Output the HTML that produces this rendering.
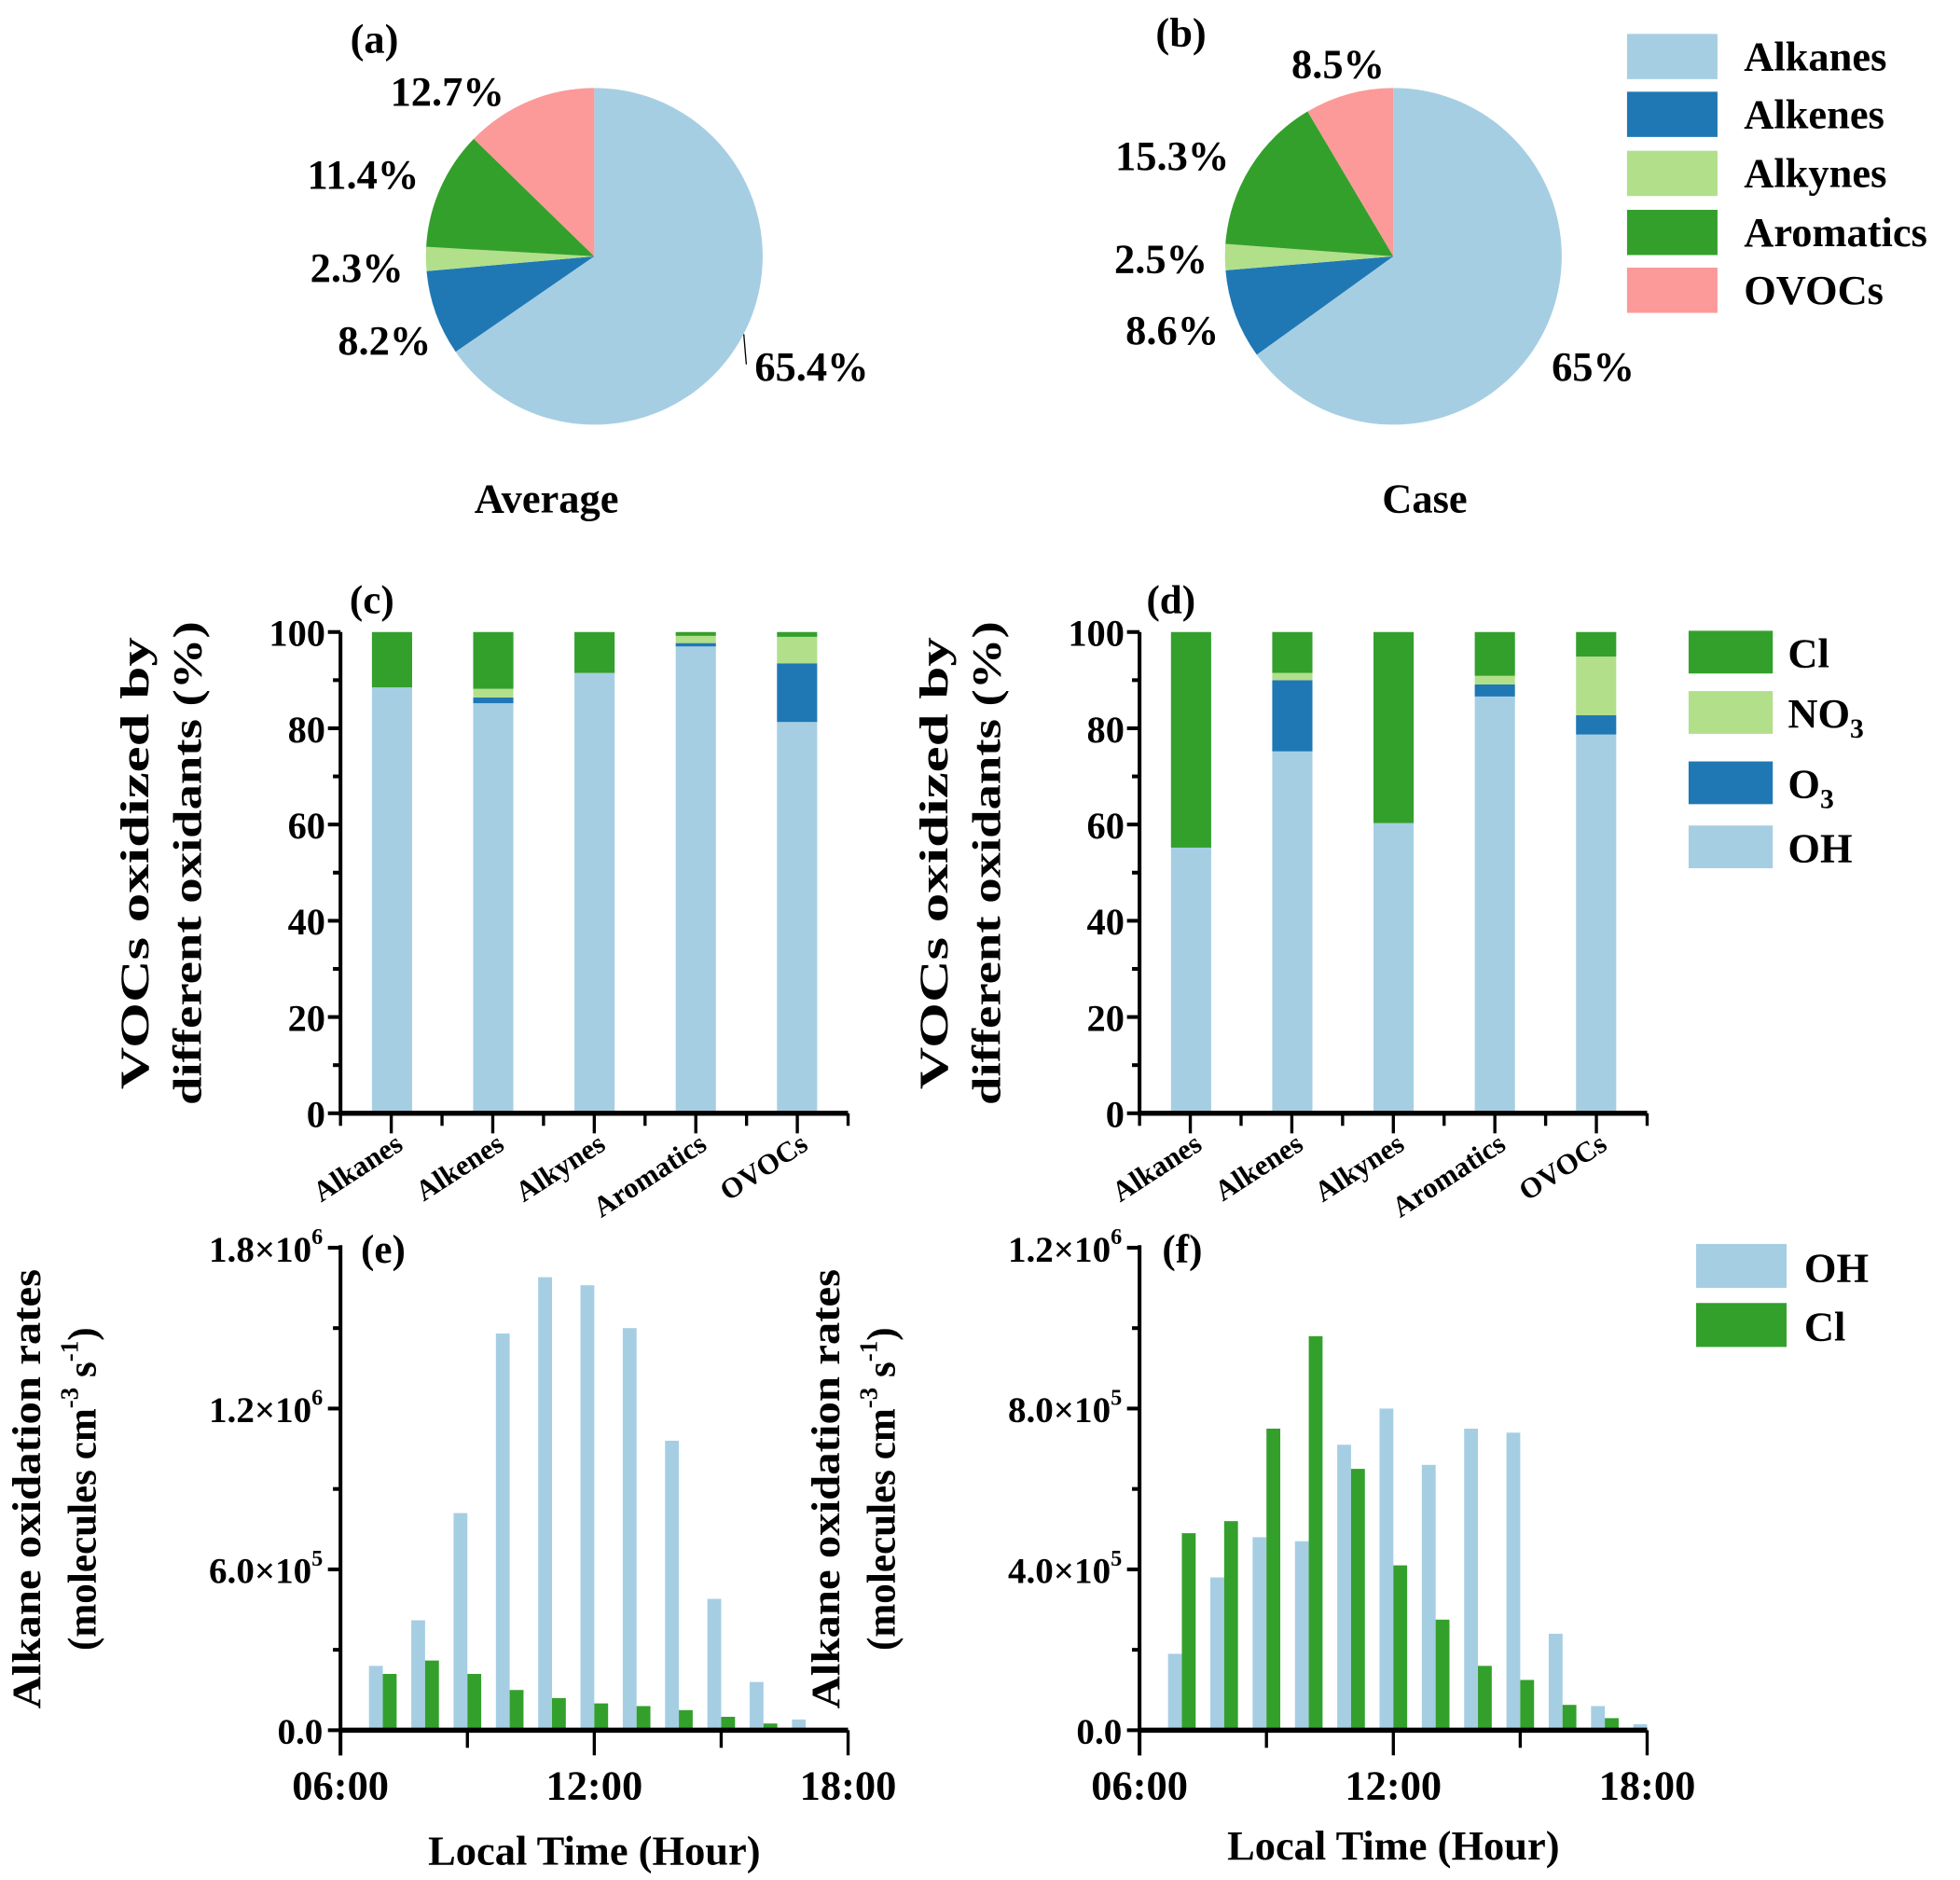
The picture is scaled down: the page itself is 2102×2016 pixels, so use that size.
<!DOCTYPE html>
<html><head><meta charset="utf-8"><style>
html,body{margin:0;padding:0;background:#fff}
svg text{font-family:"Liberation Serif",serif;font-weight:bold;fill:#000}
</style></head><body>
<svg id="fig" width="2102" height="2011" viewBox="0 0 1560 1492.5" xmlns="http://www.w3.org/2000/svg"></svg>
<script>
// ---- data ----
const pieCats = ["Alkanes","Alkenes","Alkynes","Aromatics","OVOCs"];
const pieColors = ["#a6cee3","#1f78b4","#b2df8a","#33a02c","#fb9a99"];
const pieAvg = [65.4,8.2,2.3,11.4,12.7];
const pieCase = [65,8.6,2.5,15.3,8.5];
const barCats = ["Alkanes","Alkenes","Alkynes","Aromatics","OVOCs"];
const oxidants = ["OH","O3","NO3","Cl"];
const oxColors = ["#a6cee3","#1f78b4","#b2df8a","#33a02c"];
const cOH = [88.5,85.2,91.5,97.0,81.3];
const cO3 = [0,1.2,0,0.7,12.2];
const cNO3 = [0,1.8,0,1.5,5.5];
const cCl = [11.5,11.8,8.5,0.8,1.0];
const dOH = [55.2,75.2,60.3,86.6,78.7];
const dO3 = [0,14.8,0,2.5,4.0];
const dNO3 = [0,1.5,0,1.8,12.2];
const dCl = [44.8,8.5,39.7,9.1,5.1];
const hoursE = [7,8,9,10,11,12,13,14,15,16,17];
const eOH = [0.24,0.41,0.81,1.48,1.69,1.66,1.50,1.08,0.49,0.18,0.04];
const eCl = [0.21,0.26,0.21,0.15,0.12,0.10,0.09,0.075,0.05,0.025,0.005];
const hoursF = [7,8,9,10,11,12,13,14,15,16,17,18];
const fOH = [0.19,0.38,0.48,0.47,0.71,0.80,0.66,0.75,0.74,0.24,0.06,0.015];
const fCl = [0.49,0.52,0.75,0.98,0.65,0.41,0.275,0.16,0.125,0.063,0.03,0];

const NS="http://www.w3.org/2000/svg";
const svg=document.getElementById('fig');
function el(tag,attrs,parent,txt){const e=document.createElementNS(NS,tag);for(const k in attrs)e.setAttribute(k,attrs[k]);if(txt!==undefined)e.textContent=txt;(parent||svg).appendChild(e);return e;}
function txt(x,y,s,size,anchor,parent,name){const t=el('text',{x:x,y:y,'font-size':size,'text-anchor':anchor||'middle'},parent,s);


return t;}

// ---- pies ----
function pie(cx,cy,r,vals,name){
  const g=el('g',{});
  
  
  let a=0;const tot=vals.reduce((s,v)=>s+v,0);
  vals.forEach((v,i)=>{
    const a0=a/tot*2*Math.PI, a1=(a+v)/tot*2*Math.PI; a+=v;
    const x0=cx+r*Math.sin(a0),y0=cy-r*Math.cos(a0),x1=cx+r*Math.sin(a1),y1=cy-r*Math.cos(a1);
    const p=el('path',{d:`M${cx},${cy}L${x0},${y0}A${r},${r} 0 ${(a1-a0)>Math.PI?1:0} 1 ${x1},${y1}Z`,fill:pieColors[i]},g);
    
    
  });
}
pie(473,204,134,pieAvg,'pie-average');
pie(1109,204,134,pieCase,'pie-case');
el('line',{x1:592,y1:266,x2:594,y2:290,stroke:'#000','stroke-width':1});
const FS=33;
txt(298,42,'(a)',FS,'middle',null,'panel-label-a');
txt(356,84,pieAvg[4]+'%',FS,'middle',null,'pct-ovocs');
txt(289,150,pieAvg[3]+'%',FS,'middle',null,'pct-aromatics');
txt(284,224,pieAvg[2]+'%',FS,'middle',null,'pct-alkynes');
txt(306,282,pieAvg[1]+'%',FS,'middle',null,'pct-alkenes');
txt(646,303,pieAvg[0]+'%',FS,'middle',null,'pct-alkanes');
txt(435,408,'Average',FS,'middle',null,'pie-title-average');
txt(940,37,'(b)',FS,'middle',null,'panel-label-b');
txt(1065,62,pieCase[4]+'%',FS,'middle',null,'pct-ovocs');
txt(933,135,pieCase[3]+'%',FS,'middle',null,'pct-aromatics');
txt(924,217,pieCase[2]+'%',FS,'middle',null,'pct-alkynes');
txt(933,274,pieCase[1]+'%',FS,'middle',null,'pct-alkenes');
txt(1268,303,pieCase[0]+'%',FS,'middle',null,'pct-alkanes');
txt(1134,408,'Case',FS,'middle',null,'pie-title-case');
const lg=el('g',{});


[27,73,120,167,213].forEach((y,i)=>{
  const r=el('rect',{x:1295,y:y,width:72,height:36,fill:pieColors[i]},lg);
  
  
  txt(1388,y+29,pieCats[i],FS,'start',lg,'legend-entry');
});

// ---- stacked bars ----
function stacked(ax,series,label,name){
  const g=el('g',{});
  
  
  const y0=886,y1=503,xEnd=ax+404;
  const ys=v=>y0-(y0-y1)*v/100;
  const xs=i=>ax+41+i*80.6;
  barCats.forEach((c,i)=>{
    let acc=0;
    series.forEach((s,k)=>{
      const v=s[i]; if(v<=0) return;
      const r=el('rect',{x:xs(i)-16,y:ys(acc+v),width:32,height:ys(acc)-ys(acc+v),fill:oxColors[k]},g);
      
      
      acc+=v;
    });
  });
  el('line',{x1:ax,y1:y1,x2:ax,y2:y0+2,stroke:'#000','stroke-width':3},g);
  el('line',{x1:ax-1,y1:y0,x2:xEnd,y2:y0,stroke:'#000','stroke-width':4},g);
  for(let v=0;v<=100;v+=10){
    const y=ys(v);el('line',{x1:ax-(v%20==0?10:6),y1:y,x2:ax,y2:y,stroke:'#000','stroke-width':3},g);
    if(v%20==0) txt(ax-12,y+11,String(v),30,'end',g,'y-tick-label');
  }
  for(let i=0;i<=10;i++){
    const x=ax+i*40.4;el('line',{x1:x,y1:y0,x2:x,y2:y0+(i%2?16:10),stroke:'#000','stroke-width':2.5},g);
  }
  barCats.forEach((c,i)=>{
    txt(0,0,c,23,'end',g,'x-tick-label').setAttribute('transform',`translate(${xs(i)+10},${y0+28}) rotate(-33)`);
  });
  const yl=el('g',{transform:`translate(${ax-153},687) rotate(-90)`},g);
  const a=txt(0,0,'VOCs oxidized by',32,'middle',yl,'y-axis-title');
  a.setAttribute('textLength','360');a.setAttribute('lengthAdjust','spacingAndGlyphs');
  const b=txt(0,42,'different oxidants (%)',32,'middle',yl,'y-axis-title');
  b.setAttribute('textLength','385');b.setAttribute('lengthAdjust','spacingAndGlyphs');
  txt(ax+25,488,label,32,'middle',g,'panel-label');
}
stacked(271,[cOH,cO3,cNO3,cCl],'(c)','chart-c');
stacked(907,[dOH,dO3,dNO3,dCl],'(d)','chart-d');
const lg2=el('g',{});


[[502,'Cl',3],[550,'NO',2],[606,'O',1],[657,'OH',0]].forEach(([y,t,k])=>{
  const r=el('rect',{x:1344,y:y,width:67,height:34,fill:oxColors[k]},lg2);
  
  
  const tt=txt(1423,y+29,t,FS,'start',lg2,'legend-entry');
  if(k==1||k==2){el('tspan',{'font-size':22,dy:8},tt,'3');}
});

// ---- time bars ----
function timebars(ax,hours,oh,cl,max,ticks,tickLbls,label,name,yt){
  const g=el('g',{});
  
  
  const y0=1377,y1=993;
  const ys=v=>y0-(y0-y1)*v/max;
  const xs=h=>ax+(h-6)*404/12;
  hours.forEach((h,i)=>{
    const a=el('rect',{x:xs(h)-11,y:ys(oh[i]),width:11,height:y0-ys(oh[i]),fill:'#a6cee3'},g);
    
    
    const b=el('rect',{x:xs(h),y:ys(cl[i]),width:11,height:y0-ys(cl[i]),fill:'#33a02c'},g);
    
    
  });
  el('line',{x1:ax,y1:y1-2,x2:ax,y2:y0+20,stroke:'#000','stroke-width':3},g);
  el('line',{x1:ax-1,y1:y0,x2:ax+404,y2:y0,stroke:'#000','stroke-width':4},g);
  for(let i=0;i<=6;i++){const v=max*i/6,y=ys(v);el('line',{x1:ax-(i%2?6:10),y1:y,x2:ax,y2:y,stroke:'#000','stroke-width':3},g);}
  ticks.forEach((v,i)=>{
    const t=txt(ax-14,ys(v)+11,tickLbls[i][0],29,'end',g,'y-tick-label');
    if(tickLbls[i][1]){el('tspan',{},t,'×10');el('tspan',{'font-size':18,dy:-14},t,tickLbls[i][1]);}
  });
  [6,9,12,15,18].forEach((h,i)=>{el('line',{x1:xs(h),y1:y0,x2:xs(h),y2:y0+(i%2?14:20),stroke:'#000','stroke-width':2.5},g);});
  ['06:00','12:00','18:00'].forEach((s,i)=>txt(xs(6+6*i),y0+55,s,33,'middle',g,'x-tick-label'));
  txt(ax+202,yt,'Local Time (Hour)',33,'middle',g,'x-axis-title');
  const yl=el('g',{transform:`translate(${ax-239},1185) rotate(-90)`},g);
  const a=txt(0,0,'Alkane oxidation rates',32,'middle',yl,'y-axis-title');
  a.setAttribute('textLength','350');a.setAttribute('lengthAdjust','spacingAndGlyphs');
  const t2=txt(0,44,'(molecules cm',32,'middle',yl,'y-axis-title');
  el('tspan',{'font-size':20,dy:-14},t2,'-3');el('tspan',{dy:14},t2,' s');el('tspan',{'font-size':20,dy:-14},t2,'-1');el('tspan',{dy:14},t2,')');
  txt(ax+34,1005,label,32,'middle',g,'panel-label');
}
timebars(271,hoursE,eOH,eCl,1.8,[0,0.6,1.2,1.8],[['0.0',''],['6.0','5'],['1.2','6'],['1.8','6']],'(e)','chart-e',1484);
timebars(907,hoursF,fOH,fCl,1.2,[0,0.4,0.8,1.2],[['0.0',''],['4.0','5'],['8.0','5'],['1.2','6']],'(f)','chart-f',1480);
const lg3=el('g',{});


[[990,'OH','#a6cee3'],[1037,'Cl','#33a02c']].forEach(([y,t,c])=>{
  const r=el('rect',{x:1350,y:y,width:72,height:35,fill:c},lg3);
  
  
  txt(1436,y+30,t,FS,'start',lg3,'legend-entry');
});
</script>
</body></html>
